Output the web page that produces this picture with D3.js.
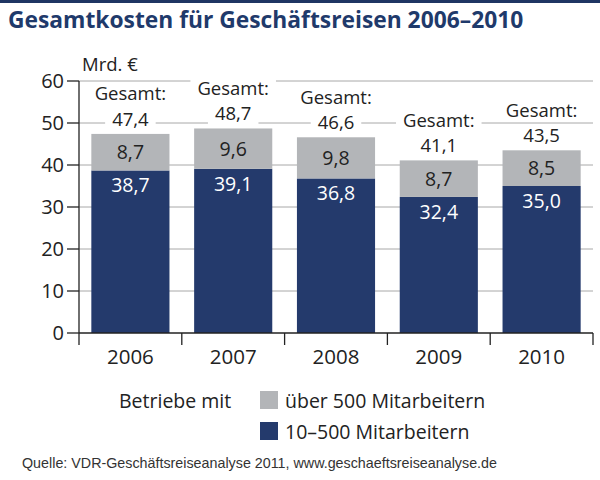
<!DOCTYPE html>
<html>
<head>
<meta charset="utf-8">
<script src="https://cdn.jsdelivr.net/npm/d3@7"></script>
<style>
  body { margin: 0; background: #fff; }
  svg { display: block; }
</style>
</head>
<body>
<div id="container"></div>
<script>
let w = 600;
let h = 480;

// data
let years = ["2006", "2007", "2008", "2009", "2010"];
let small = [38.7, 39.1, 36.8, 32.4, 35.0];   // 10–500 Mitarbeitern
let large = [8.7, 9.6, 9.8, 8.7, 8.5];        // über 500 Mitarbeitern
let totals = ["47,4", "48,7", "46,6", "41,1", "43,5"];
let yTicks = [0, 10, 20, 30, 40, 50, 60];
let legendLabels = ["über 500 Mitarbeitern", "10–500 Mitarbeitern"];

let navy = "#243a6c";
let grey = "#b3b5b8";
let font = "'Open Sans', sans-serif";
let fs = 19.5;

let fmt = function(v){ return d3.format(".1f")(v).replace(".", ","); };

let viz = d3.select("#container").append("svg")
    .attr("width", w)
    .attr("height", h)
    .style("background-color", "#fff")
;

// top border
viz.append("rect").attr("x", 0).attr("y", 0).attr("width", w).attr("height", 3).attr("fill", "#1f3563");

// title
viz.append("text")
  .attr("x", 8).attr("y", 28)
  .attr("font-family", font)
  .attr("font-weight", "bold")
  .attr("font-size", 22.8)
  .attr("fill", "#1f3a6b")
  .text("Gesamtkosten für Geschäftsreisen 2006–2010");

let x = d3.scaleBand().domain(years).range([79, 593]).paddingInner(0.24).paddingOuter(0.12);
let y = d3.scaleLinear().domain([0, 60]).range([333, 81]);

// gridlines
viz.append("g").selectAll("line").data(yTicks.filter(d => d > 0)).enter()
  .append("line")
  .attr("x1", 79).attr("x2", 593)
  .attr("y1", d => y(d)).attr("y2", d => y(d))
  .attr("stroke", "#a8a8a8").attr("stroke-width", 1);

// bars
let bars = viz.append("g");
bars.selectAll(".small").data(years).enter().append("rect")
  .attr("x", d => x(d)).attr("width", x.bandwidth())
  .attr("y", (d, i) => y(small[i]))
  .attr("height", (d, i) => y(0) - y(small[i]))
  .attr("fill", navy);
bars.selectAll(".large").data(years).enter().append("rect")
  .attr("x", d => x(d)).attr("width", x.bandwidth())
  .attr("y", (d, i) => y(small[i] + large[i]))
  .attr("height", (d, i) => y(small[i]) - y(small[i] + large[i]))
  .attr("fill", grey);

// segment labels
viz.append("g").selectAll("text").data(years).enter().append("text")
  .attr("x", d => x(d) + x.bandwidth() / 2)
  .attr("y", (d, i) => y(small[i]) + 22)
  .attr("text-anchor", "middle")
  .attr("font-family", font).attr("font-size", fs)
  .attr("fill", "#fff")
  .text((d, i) => fmt(small[i]));
viz.append("g").selectAll("text").data(years).enter().append("text")
  .attr("x", d => x(d) + x.bandwidth() / 2)
  .attr("y", (d, i) => (y(small[i]) + y(small[i] + large[i])) / 2 + 7)
  .attr("text-anchor", "middle")
  .attr("font-family", font).attr("font-size", fs)
  .attr("fill", "#222")
  .text((d, i) => fmt(large[i]));

// total labels with white knock-out
let totalG = viz.append("g");
let tfs = 18.5;
years.forEach(function(d, i){
  let g = totalG.append("g");
  let cx = x(d) + x.bandwidth() / 2;
  let top = y(small[i] + large[i]);
  [["Gesamt:", top - 33.5], [totals[i], top - 8]].forEach(function(l){
    let t = g.append("text").attr("x", cx).attr("y", l[1])
      .attr("text-anchor", "middle")
      .attr("font-family", font).attr("font-size", tfs).attr("fill", "#222")
      .text(l[0]);
    let len = t.node().getComputedTextLength();
    g.insert("rect", "text")
      .attr("x", cx - len / 2 - 7).attr("y", l[1] - 15)
      .attr("width", len + 14).attr("height", 20)
      .attr("fill", "#fff");
  });
});

// y axis
let axisColor = "#222";
viz.append("line").attr("x1", 79).attr("x2", 79).attr("y1", y(60)).attr("y2", y(0) + 12)
  .attr("stroke", axisColor).attr("stroke-width", 1.3);
viz.append("g").selectAll("line").data(yTicks).enter().append("line")
  .attr("x1", 67).attr("x2", 79)
  .attr("y1", d => y(d)).attr("y2", d => y(d))
  .attr("stroke", axisColor).attr("stroke-width", 1.3);
viz.append("g").selectAll("text").data(yTicks).enter().append("text")
  .attr("x", 64).attr("y", d => y(d) + 7)
  .attr("text-anchor", "end")
  .attr("font-family", font).attr("font-size", 20).attr("fill", "#222")
  .text(d => d);
viz.append("text").attr("x", 82).attr("y", 71)
  .attr("font-family", font).attr("font-size", 18.5).attr("fill", "#222")
  .text("Mrd. €");

// x axis
viz.append("line").attr("x1", 79).attr("x2", 593).attr("y1", y(0)).attr("y2", y(0))
  .attr("stroke", axisColor).attr("stroke-width", 1.3);
let edges = years.map(d => x(d) - (x.step() - x.bandwidth()) / 2).concat([x.range()[1]]);
viz.append("g").selectAll("line").data(edges.slice(1)).enter().append("line")
  .attr("x1", d => d).attr("x2", d => d)
  .attr("y1", y(0)).attr("y2", y(0) + 12)
  .attr("stroke", axisColor).attr("stroke-width", 1.3);
viz.append("g").selectAll("text").data(years).enter().append("text")
  .attr("x", d => x(d) + x.bandwidth() / 2)
  .attr("y", 364)
  .attr("text-anchor", "middle")
  .attr("font-family", font).attr("font-size", 20.5).attr("fill", "#222")
  .text(d => d);

// legend
let legend = viz.append("g");
legend.append("text").attr("x", 119).attr("y", 408)
  .attr("font-family", font).attr("font-size", fs).attr("fill", "#222")
  .text("Betriebe mit");
[grey, navy].forEach(function(c, i){
  legend.append("rect").attr("x", 260).attr("y", 391 + i * 31).attr("width", 18).attr("height", 18).attr("fill", c);
  legend.append("text").attr("x", 285).attr("y", 408 + i * 31)
    .attr("font-family", font).attr("font-size", fs).attr("fill", "#222")
    .text(legendLabels[i]);
});

// source
viz.append("text").attr("x", 22).attr("y", 468)
  .attr("font-family", "'Liberation Sans', Arial, sans-serif").attr("font-size", 14.3).attr("fill", "#333")
  .text("Quelle: VDR-Geschäftsreiseanalyse 2011, www.geschaeftsreiseanalyse.de");
</script>
</body>
</html>
